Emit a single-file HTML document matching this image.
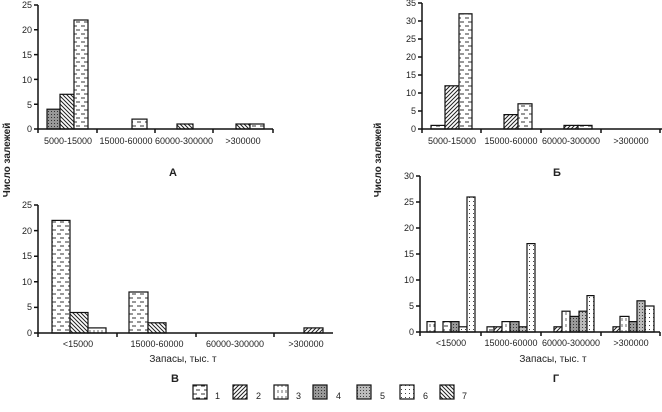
<!DOCTYPE html><html><head><style>body{margin:0;background:#fff}svg{display:block}text{font-family:"Liberation Sans",sans-serif;font-size:9px;fill:#222}</style></head><body>
<svg width="662" height="412" viewBox="0 0 662 412" xmlns="http://www.w3.org/2000/svg">
<defs>
<pattern id="p1" width="8" height="8" patternUnits="userSpaceOnUse"><rect width="8" height="8" fill="#fff"/><line x1="1" y1="2" x2="5" y2="2" stroke="#333" stroke-width="1"/><line x1="4" y1="6" x2="8" y2="6" stroke="#333" stroke-width="1"/></pattern>
<pattern id="p2" width="4" height="4" patternUnits="userSpaceOnUse"><rect width="4" height="4" fill="#fff"/><path d="M-1,5 L5,-1 M-1,1 L1,-1 M3,5 L5,3" stroke="#222" stroke-width="1"/></pattern>
<pattern id="p3" width="4" height="6" patternUnits="userSpaceOnUse"><rect width="4" height="6" fill="#fff"/><line x1="2" y1="0" x2="2" y2="3" stroke="#444" stroke-width="0.8"/></pattern>
<pattern id="p4" width="3" height="3" patternUnits="userSpaceOnUse"><rect width="3" height="3" fill="#999"/><rect width="1" height="1" fill="#333"/></pattern>
<pattern id="p5" width="3" height="3" patternUnits="userSpaceOnUse"><rect width="3" height="3" fill="#bbb"/><rect width="1" height="1" fill="#444"/></pattern>
<pattern id="p6" width="4" height="4" patternUnits="userSpaceOnUse"><rect width="4" height="4" fill="#fff"/><rect x="1" y="1" width="1" height="1" fill="#444"/></pattern>
<pattern id="p7" width="4" height="4" patternUnits="userSpaceOnUse"><rect width="4" height="4" fill="#fff"/><path d="M-1,-1 L5,5 M3,-1 L5,1 M-1,3 L1,5" stroke="#222" stroke-width="1"/></pattern>
</defs>
<g stroke="#111" stroke-width="1.2">
<rect x="47" y="109.2" width="13" height="19.8" fill="url(#p4)"/>
<rect x="60" y="94.3" width="14" height="34.7" fill="url(#p7)"/>
<rect x="74" y="20" width="14" height="109" fill="url(#p1)"/>
<rect x="132" y="119.1" width="15" height="9.9" fill="url(#p1)"/>
<rect x="177" y="124" width="16" height="5" fill="url(#p7)"/>
<rect x="236" y="124" width="14" height="5" fill="url(#p7)"/>
<rect x="250" y="124" width="14" height="5" fill="url(#p1)"/>
<rect x="431" y="125.4" width="14" height="3.6" fill="url(#p1)"/>
<rect x="445" y="85.8" width="14" height="43.2" fill="url(#p2)"/>
<rect x="459" y="13.8" width="13" height="115.2" fill="url(#p1)"/>
<rect x="504" y="114.6" width="14" height="14.4" fill="url(#p2)"/>
<rect x="518" y="103.8" width="14" height="25.2" fill="url(#p1)"/>
<rect x="564" y="125.4" width="14" height="3.6" fill="url(#p2)"/>
<rect x="578" y="125.4" width="14" height="3.6" fill="url(#p1)"/>
<rect x="52" y="220.4" width="18" height="112.6" fill="url(#p1)"/>
<rect x="70" y="312.5" width="18" height="20.5" fill="url(#p7)"/>
<rect x="88" y="327.9" width="18" height="5.1" fill="url(#p3)"/>
<rect x="129" y="292" width="19" height="41" fill="url(#p1)"/>
<rect x="148" y="322.8" width="18" height="10.2" fill="url(#p7)"/>
<rect x="304" y="327.9" width="19" height="5.1" fill="url(#p2)"/>
<rect x="427" y="321.6" width="8" height="10.4" fill="url(#p3)"/>
<rect x="443" y="321.6" width="8" height="10.4" fill="url(#p1)"/>
<rect x="451" y="321.6" width="8" height="10.4" fill="url(#p4)"/>
<rect x="459" y="326.8" width="8" height="5.2" fill="url(#p6)"/>
<rect x="467" y="197" width="8" height="135" fill="url(#p6)"/>
<rect x="487" y="326.8" width="7" height="5.2" fill="url(#p1)"/>
<rect x="494" y="326.8" width="8" height="5.2" fill="url(#p2)"/>
<rect x="502" y="321.6" width="8" height="10.4" fill="url(#p3)"/>
<rect x="510" y="321.6" width="9" height="10.4" fill="url(#p4)"/>
<rect x="519" y="326.8" width="8" height="5.2" fill="url(#p5)"/>
<rect x="527" y="243.6" width="8" height="88.4" fill="url(#p6)"/>
<rect x="554" y="326.8" width="8" height="5.2" fill="url(#p2)"/>
<rect x="562" y="311.2" width="8" height="20.8" fill="url(#p3)"/>
<rect x="570" y="316.4" width="9" height="15.6" fill="url(#p4)"/>
<rect x="579" y="311.2" width="8" height="20.8" fill="url(#p5)"/>
<rect x="587" y="295.6" width="7" height="36.4" fill="url(#p6)"/>
<rect x="613" y="326.8" width="7" height="5.2" fill="url(#p2)"/>
<rect x="620" y="316.4" width="9" height="15.6" fill="url(#p3)"/>
<rect x="629" y="321.6" width="8" height="10.4" fill="url(#p4)"/>
<rect x="637" y="300.8" width="8" height="31.2" fill="url(#p5)"/>
<rect x="645" y="306" width="9" height="26" fill="url(#p6)"/>
</g>
<g stroke="#111" stroke-width="1.5" fill="none">
<path d="M38,5 V129 H273 M34,5 H38 M34,29.8 H38 M34,54.6 H38 M34,79.4 H38 M34,104.2 H38 M34,129 H38 M38,129 v4 M97,129 v4 M155,129 v4 M213,129 v4 M273,129 v4"/>
<path d="M422,3 V129 H662 M418,3 H422 M418,21 H422 M418,39 H422 M418,57 H422 M418,75 H422 M418,93 H422 M418,111 H422 M418,129 H422 M422,129 v4 M481,129 v4 M541,129 v4 M601,129 v4 M660,129 v4"/>
<path d="M38,205 V333 H333 M34,205 H38 M34,230.6 H38 M34,256.2 H38 M34,281.8 H38 M34,307.4 H38 M34,333 H38 M38,333 v4 M117,333 v4 M196,333 v4 M274,333 v4"/>
<path d="M420,176 V332 H660 M416,176 H420 M416,202 H420 M416,228 H420 M416,254 H420 M416,280 H420 M416,306 H420 M416,332 H420 M420,332 v4 M481,332 v4 M541,332 v4 M601,332 v4 M660,332 v4"/>
</g>
<g text-anchor="end">
<text x="32" y="8">25</text><text x="32" y="33">20</text><text x="32" y="58">15</text><text x="32" y="83">10</text><text x="32" y="108">5</text><text x="32" y="132">0</text>
<text x="416" y="6">35</text><text x="416" y="24">30</text><text x="416" y="42">25</text><text x="416" y="60">20</text><text x="416" y="78">15</text><text x="416" y="96">10</text><text x="416" y="114">5</text><text x="416" y="132">0</text>
<text x="32" y="208">25</text><text x="32" y="234">20</text><text x="32" y="259">15</text><text x="32" y="285">10</text><text x="32" y="310">5</text><text x="32" y="336">0</text>
<text x="414" y="179">30</text><text x="414" y="205">25</text><text x="414" y="231">20</text><text x="414" y="257">15</text><text x="414" y="283">10</text><text x="414" y="309">5</text><text x="414" y="335">0</text>
</g>
<g text-anchor="middle">
<text x="68" y="144">5000-15000</text><text x="126" y="144">15000-60000</text><text x="184" y="144">60000-300000</text><text x="243" y="144">&gt;300000</text>
<text x="452" y="144">5000-15000</text><text x="511" y="144">15000-60000</text><text x="571" y="144">60000-300000</text><text x="631" y="144">&gt;300000</text>
<text x="78" y="347">&lt;15000</text><text x="157" y="347">15000-60000</text><text x="235" y="347">60000-300000</text><text x="306" y="347">&gt;300000</text>
<text x="451" y="346">&lt;15000</text><text x="511" y="346">15000-60000</text><text x="571" y="346">60000-300000</text><text x="631" y="346">&gt;300000</text>
<text x="183" y="362" style="font-size:10px">Запасы, тыс. т</text>
<text x="553" y="362" style="font-size:10px">Запасы, тыс. т</text>
<text x="173" y="176" style="font-size:11px;font-weight:bold">А</text>
<text x="557" y="176" style="font-size:11px;font-weight:bold">Б</text>
<text x="175" y="382" style="font-size:11px;font-weight:bold">В</text>
<text x="556" y="382" style="font-size:11px;font-weight:bold">Г</text>
<text transform="translate(10,160) rotate(-90)" style="font-size:10px;font-weight:bold">Число залежей</text>
<text transform="translate(381,160) rotate(-90)" style="font-size:10px;font-weight:bold">Число залежей</text>
</g>
<g stroke="#111" stroke-width="1.2">
<rect x="193" y="385" width="14" height="14" fill="url(#p1)"/>
<rect x="233" y="385" width="14" height="14" fill="url(#p2)"/>
<rect x="274" y="385" width="14" height="14" fill="url(#p3)"/>
<rect x="313" y="385" width="14" height="14" fill="url(#p4)"/>
<rect x="357" y="385" width="14" height="14" fill="url(#p5)"/>
<rect x="400" y="385" width="14" height="14" fill="url(#p6)"/>
<rect x="440" y="385" width="14" height="14" fill="url(#p7)"/>
</g>
<g style="font-size:10px">
<text x="215" y="399">1</text><text x="256" y="399">2</text><text x="296" y="399">3</text><text x="336" y="399">4</text><text x="380" y="399">5</text><text x="423" y="399">6</text><text x="462" y="399">7</text>
</g>
</svg>
</body></html>
